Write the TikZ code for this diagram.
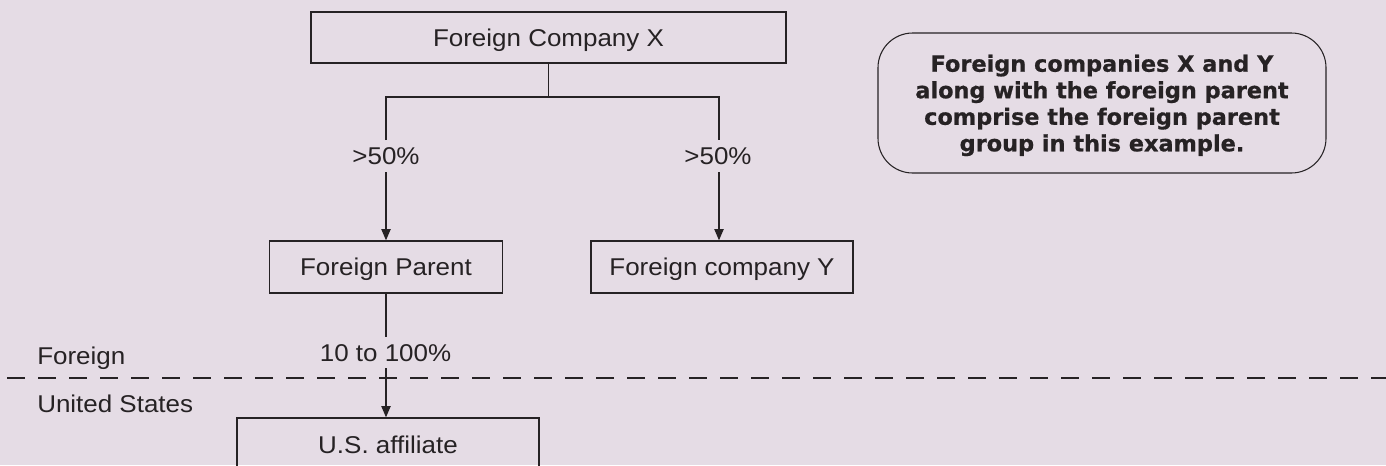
\documentclass[tikz,border=0pt]{standalone}
\usepackage{fontspec}
\setmainfont{Liberation Sans}[FakeStretch=1.07]
\newfontfamily\notefont{DejaVu Sans}[BoldFeatures={FakeBold=0.7}]
\usetikzlibrary{arrows.meta}
\definecolor{bg}{HTML}{E5DCE5}
\definecolor{ink}{HTML}{262224}
\def\px{0.75pt}
\tikzset{
  box/.style={draw=ink, line width=1pt, fill=none, text=ink, inner sep=0pt,
    font=\fontsize{18.2}{21}\selectfont, text height=13pt, text depth=0pt},
  lbl/.style={text=ink, inner sep=0pt, font=\fontsize{18.2}{21}\selectfont},
  conn/.style={draw=ink, line width=1pt},
  arr/.style={conn, -{Triangle[length=8.5pt,width=7pt]}},
  note/.style={draw=ink, line width=0.8pt, rounded corners=26pt, text=ink,
    inner sep=0pt, align=center, text depth=0pt,
    font=\notefont\bfseries\fontsize{16.8}{19.9}\selectfont},
  border/.style={draw=ink, line width=1pt, dash pattern=on 13.5pt off 9.75pt}
}
\begin{document}
\begin{tikzpicture}[x=0.75pt,y=-0.75pt]
\fill[bg] (0,0) rectangle (1386,465);
\useasboundingbox (0,0) rectangle (1386,465);
\clip (0,0) rectangle (1386,465);

% boxes
\node[box, minimum width=475*\px, minimum height=51*\px] (fcx) at (548.5,37.5) {Foreign Company X};
\node[box, minimum width=233*\px, minimum height=52*\px] (fp) at (386,267) {Foreign Parent};
\node[box, minimum width=262*\px, minimum height=52*\px] (fcy) at (722,267) {Foreign company Y};
\node[box, minimum width=302*\px, minimum height=54*\px] (usa) at (388,445) {U.S. affiliate};

% note
\node[note, minimum width=448*\px, minimum height=140*\px] (note) at (1102,103)
  {Foreign companies X and Y\\along with the foreign parent\\comprise the foreign parent\\group in this example.};

% labels
\node[lbl, anchor=base] (pl) at (386,164) {>50\%};
\node[lbl, anchor=base] (pr) at (718,164) {>50\%};
\node[lbl, anchor=base] (pu) at (385.5,361) {10 to 100\%};
\node[lbl, anchor=base west] (lf) at (37,364) {Foreign};
\node[lbl, anchor=base west] (lus) at (37,412) {United States};

% coordinates
\coordinate (jl) at (386,97);
\coordinate (jr) at (719,97);
\coordinate (le) at (386,140);
\coordinate (re) at (719,140);
\coordinate (ls) at (386,172);
\coordinate (rs) at (719,172);
\coordinate (fe) at (386,337);
\coordinate (us) at (386,368);
\coordinate (dl) at (7,378);
\coordinate (dr) at (1400,378);

% connectors
\draw[conn] (fcx.south) -- (fcx.south |- jl);
\draw[conn] (le) -- (jl) -- (jr) -- (re);
\draw[arr] (ls) -- (ls |- fp.north);
\draw[arr] (rs) -- (rs |- fcy.north);
\draw[conn] (fp.south) -- (fe);
\draw[arr] (us) -- (us |- usa.north);

% border
\draw[border] (dl) -- (dr);
\end{tikzpicture}
\end{document}
